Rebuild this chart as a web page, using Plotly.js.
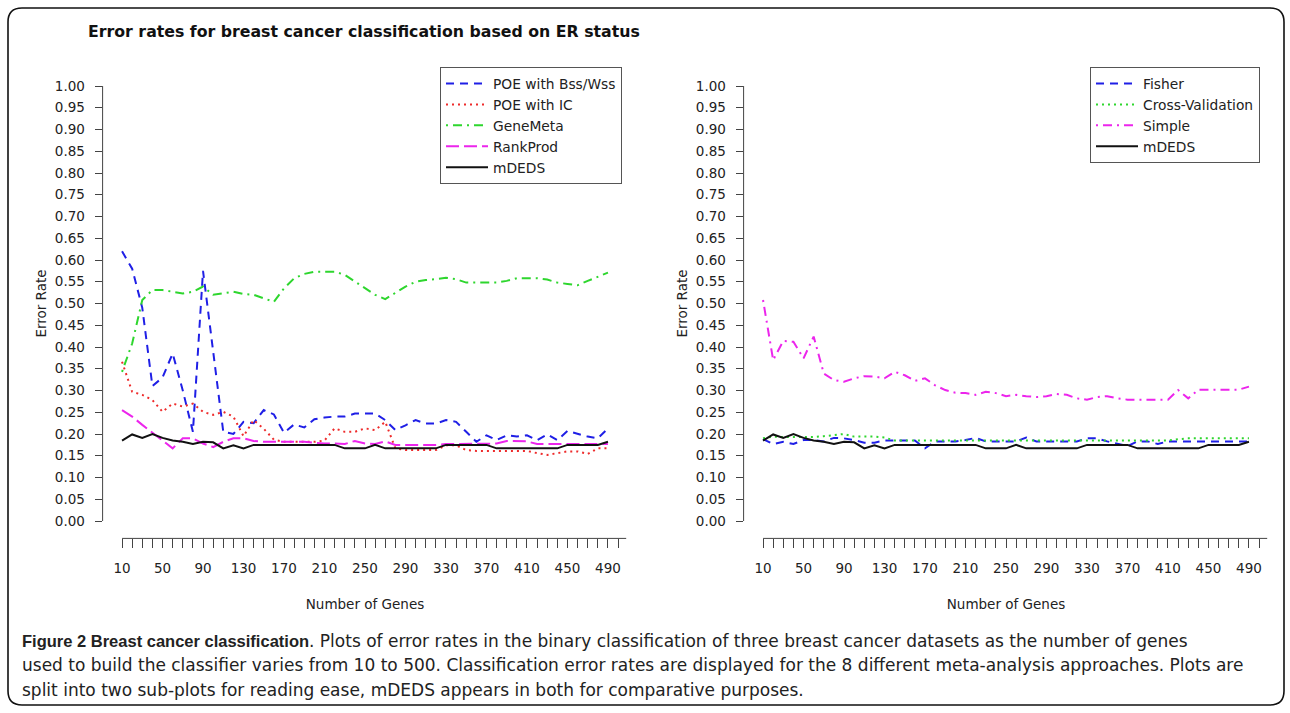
<!DOCTYPE html>
<html>
<head>
<meta charset="utf-8">
<script src="https://cdn.plot.ly/plotly-3.0.1.min.js"></script>
<style>
  html, body { margin: 0; padding: 0; background: #fff; }
  #chart { width: 1290px; height: 713px; }
</style>
</head>
<body>
<div id="chart"></div>
<script>
// ---------- data ----------
const genes = [10,20,30,40,50,60,70,80,90,100,110,120,130,140,150,160,170,180,190,200,
  210,220,230,240,250,260,270,280,290,300,310,320,330,340,350,360,370,380,390,400,
  410,420,430,440,450,460,470,480,490];

// left panel
const poeBssWss = [0.62,0.58,0.49,0.31,0.33,0.385,0.30,0.205,0.575,0.39,
  0.205,0.20,0.228,0.225,0.255,0.245,0.203,0.222,0.215,0.234,
  0.238,0.24,0.24,0.247,0.247,0.247,0.232,0.209,0.22,0.232,
  0.224,0.224,0.232,0.228,0.205,0.182,0.197,0.186,0.197,0.194,
  0.197,0.186,0.199,0.186,0.207,0.201,0.194,0.19,0.213];
const poeIC = [0.366,0.297,0.29,0.278,0.251,0.27,0.263,0.27,0.251,0.244,
  0.251,0.24,0.195,0.232,0.212,0.187,0.182,0.182,0.182,0.182,
  0.185,0.213,0.205,0.205,0.213,0.209,0.228,0.167,0.163,0.163,
  0.163,0.163,0.174,0.174,0.163,0.161,0.161,0.161,0.161,0.161,
  0.161,0.156,0.152,0.156,0.16,0.16,0.154,0.167,0.167];
const geneMeta = [0.343,0.408,0.508,0.531,0.531,0.527,0.523,0.527,0.539,0.52,
  0.523,0.527,0.522,0.52,0.512,0.504,0.535,0.558,0.568,0.573,
  0.573,0.573,0.566,0.55,0.535,0.52,0.51,0.525,0.539,0.55,
  0.554,0.556,0.559,0.556,0.548,0.548,0.548,0.548,0.552,0.558,
  0.558,0.558,0.555,0.548,0.545,0.542,0.552,0.562,0.571];
const rankProd = [0.255,0.24,0.221,0.202,0.185,0.167,0.19,0.19,0.178,0.17,
  0.182,0.19,0.19,0.184,0.182,0.182,0.182,0.182,0.182,0.18,
  0.178,0.178,0.177,0.184,0.178,0.177,0.183,0.175,0.175,0.175,
  0.175,0.175,0.177,0.177,0.177,0.177,0.177,0.178,0.184,0.184,
  0.183,0.177,0.177,0.177,0.177,0.177,0.177,0.177,0.177];
const mDEDS = [0.185,0.199,0.191,0.2,0.191,0.185,0.182,0.177,0.182,0.181,
  0.167,0.174,0.167,0.175,0.175,0.175,0.175,0.175,0.175,0.175,
  0.175,0.175,0.167,0.167,0.167,0.175,0.167,0.167,0.167,0.167,
  0.167,0.167,0.175,0.175,0.175,0.175,0.175,0.167,0.167,0.167,
  0.167,0.167,0.167,0.167,0.175,0.175,0.175,0.175,0.182];

// right panel
const fisher = [0.188,0.177,0.182,0.177,0.186,0.186,0.183,0.191,0.19,0.186,
  0.18,0.18,0.185,0.185,0.185,0.185,0.167,0.183,0.183,0.183,
  0.186,0.191,0.183,0.183,0.183,0.183,0.192,0.183,0.183,0.183,
  0.183,0.183,0.19,0.19,0.183,0.177,0.172,0.183,0.183,0.177,
  0.183,0.183,0.183,0.183,0.183,0.183,0.183,0.183,0.183];
const crossValidation = [0.19,0.194,0.193,0.193,0.193,0.193,0.195,0.197,0.2,0.194,
  0.194,0.194,0.192,0.185,0.185,0.185,0.185,0.185,0.185,0.185,
  0.185,0.185,0.185,0.185,0.185,0.185,0.185,0.185,0.185,0.185,
  0.185,0.185,0.185,0.185,0.185,0.185,0.185,0.185,0.185,0.185,
  0.185,0.188,0.19,0.19,0.19,0.19,0.19,0.19,0.19];
const simple = [0.508,0.37,0.414,0.412,0.374,0.424,0.339,0.324,0.32,0.328,
  0.333,0.332,0.328,0.343,0.335,0.322,0.328,0.312,0.301,0.295,
  0.294,0.29,0.297,0.294,0.287,0.29,0.287,0.285,0.287,0.292,
  0.29,0.282,0.279,0.285,0.287,0.282,0.279,0.279,0.279,0.279,
  0.279,0.301,0.282,0.302,0.302,0.302,0.302,0.302,0.309];

// axis labels
const xTickLabels = ['10','50','90','130','170','210','250','290','330','370','410','450','490'];
const xTickStart = 10, xTickEnd = 500, xTickStep = 10;

// ---------- styling ----------
const FONT = 'DejaVu Sans, Liberation Sans, Arial, sans-serif';
const BOLDCAP = 'Liberation Sans, Arial, sans-serif';
const W = 1290, H = 713;
const px = v => v / W;
const py = v => 1 - v / H;

const tickvals = [], ticktext = [];
for (let t = xTickStart; t <= xTickEnd; t += xTickStep) {
  tickvals.push(t);
  ticktext.push(xTickLabels.includes(String(t)) ? String(t) : '');
}

const C = { blue: '#1f1fe6', red: '#ee2b2b', green: '#2ed62e', magenta: '#ec25ec', black: '#111111' };

function tr(name, y, color, dash, xa, ya, legend) {
  return { type: 'scatter', mode: 'lines', name, x: genes, y,
    xaxis: xa, yaxis: ya, legend,
    line: { color, width: 2, dash } };
}

const data = [
  tr('POE with Bss/Wss', poeBssWss, C.blue, '8px,6px', 'x', 'y', 'legend'),
  tr('POE with IC', poeIC, C.red, '2px,4px', 'x', 'y', 'legend'),
  tr('GeneMeta', geneMeta, C.green, '2px,5px,9px,5px', 'x', 'y', 'legend'),
  tr('RankProd', rankProd, C.magenta, '13px,5px', 'x', 'y', 'legend'),
  tr('mDEDS', mDEDS, C.black, 'solid', 'x', 'y', 'legend'),
  tr('Fisher', fisher, C.blue, '8px,6px', 'x2', 'y2', 'legend2'),
  tr('Cross-Validation', crossValidation, C.green, '2px,4px', 'x2', 'y2', 'legend2'),
  tr('Simple', simple, C.magenta, '2px,5px,9px,5px', 'x2', 'y2', 'legend2'),
  tr('mDEDS', mDEDS, C.black, 'solid', 'x2', 'y2', 'legend2')
];

const yDom = [py(538.4), py(68.6)];
const xDomL = [px(102.6), px(627.4)];
const xDomR = [px(743.6), px(1268.4)];

const TXT = '#222';
function xaxisDef(dom, anchor) {
  return { domain: dom, anchor, range: [-9.2, 509.2], tickmode: 'array', tickvals, ticktext,
    ticks: 'outside', ticklen: 9, tickcolor: '#444', tickwidth: 1,
    showgrid: false, zeroline: false, showline: false,
    tickfont: { family: FONT, size: 13.5, color: TXT }, ticklabelstandoff: 8,
    title: { text: 'Number of Genes', font: { family: FONT, size: 13.5, color: TXT }, standoff: 24 } };
}
function yaxisDef(anchor) {
  return { domain: yDom, anchor, range: [-0.04, 1.04], tickmode: 'linear', tick0: 0, dtick: 0.05,
    tickformat: '.2f', ticks: 'outside', ticklen: 7, tickcolor: '#444', tickwidth: 1,
    showgrid: false, zeroline: false, showline: false,
    tickfont: { family: FONT, size: 13.5, color: TXT }, ticklabelstandoff: 7,
    title: { text: 'Error Rate', font: { family: FONT, size: 13.5, color: TXT }, standoff: 5 } };
}

function legendDef(xpx) {
  return { x: px(xpx), y: py(67), xanchor: 'left', yanchor: 'top',
    bgcolor: '#fff', bordercolor: '#555', borderwidth: 1,
    font: { family: FONT, size: 13.8, color: TXT }, itemwidth: 42, traceorder: 'normal' };
}

const r = 14;
const L = 8, T = 8, R = 1284, B = 705;
const borderPath = `M ${px(L+r)} ${py(T)} L ${px(R-r)} ${py(T)} Q ${px(R)} ${py(T)} ${px(R)} ${py(T+r)} ` +
  `L ${px(R)} ${py(B-r)} Q ${px(R)} ${py(B)} ${px(R-r)} ${py(B)} L ${px(L+r)} ${py(B)} ` +
  `Q ${px(L)} ${py(B)} ${px(L)} ${py(B-r)} L ${px(L)} ${py(T+r)} Q ${px(L)} ${py(T)} ${px(L+r)} ${py(T)} Z`;

const shapes = [
  { type: 'path', xref: 'paper', yref: 'paper', path: borderPath, line: { color: '#111', width: 1.6 } },
  // axis lines (R style: spanning the ticks)
  { type: 'line', xref: 'paper', yref: 'y', x0: xDomL[0], x1: xDomL[0], y0: 0, y1: 1, line: { color: '#444', width: 1 } },
  { type: 'line', xref: 'x', yref: 'paper', x0: 10, x1: 508, y0: yDom[0], y1: yDom[0], line: { color: '#444', width: 1 } },
  { type: 'line', xref: 'paper', yref: 'y2', x0: xDomR[0], x1: xDomR[0], y0: 0, y1: 1, line: { color: '#444', width: 1 } },
  { type: 'line', xref: 'x2', yref: 'paper', x0: 10, x1: 508, y0: yDom[0], y1: yDom[0], line: { color: '#444', width: 1 } }
];

const capFont = { family: FONT, size: 17, color: '#222' };
const boldOpen = `<span style="font-family:${BOLDCAP};font-size:16.5px;font-weight:bold">`;
const annotations = [
  { xref: 'paper', yref: 'paper', x: px(20), y: py(641), xanchor: 'left', yanchor: 'middle', showarrow: false, font: capFont,
    text: boldOpen + 'Figure 2 Breast cancer classification</span>. Plots of error rates in the binary classification of three breast cancer datasets as the number of genes' },
  { xref: 'paper', yref: 'paper', x: px(20), y: py(665), xanchor: 'left', yanchor: 'middle', showarrow: false, font: capFont,
    text: 'used to build the classifier varies from 10 to 500. Classification error rates are displayed for the 8 different meta-analysis approaches. Plots are' },
  { xref: 'paper', yref: 'paper', x: px(20), y: py(690), xanchor: 'left', yanchor: 'middle', showarrow: false, font: capFont,
    text: 'split into two sub-plots for reading ease, mDEDS appears in both for comparative purposes.' }
];

const layout = {
  width: W, height: H, autosize: false,
  margin: { l: 0, r: 0, t: 0, b: 0, pad: 0 },
  paper_bgcolor: '#fff', plot_bgcolor: 'rgba(0,0,0,0)',
  font: { family: FONT, color: TXT },
  title: { text: '<b>Error rates for breast cancer classification based on ER status</b>',
    x: px(88), xanchor: 'left', xref: 'paper', y: py(31), yanchor: 'middle', yref: 'paper',
    font: { family: FONT, size: 15.75, color: '#111' } },
  xaxis: xaxisDef(xDomL, 'y'),
  yaxis: yaxisDef('x'),
  xaxis2: xaxisDef(xDomR, 'y2'),
  yaxis2: yaxisDef('x2'),
  legend: legendDef(440),
  legend2: legendDef(1090),
  showlegend: true,
  shapes, annotations
};

Plotly.newPlot('chart', data, layout, { displayModeBar: false, staticPlot: true });
</script>
</body>
</html>
